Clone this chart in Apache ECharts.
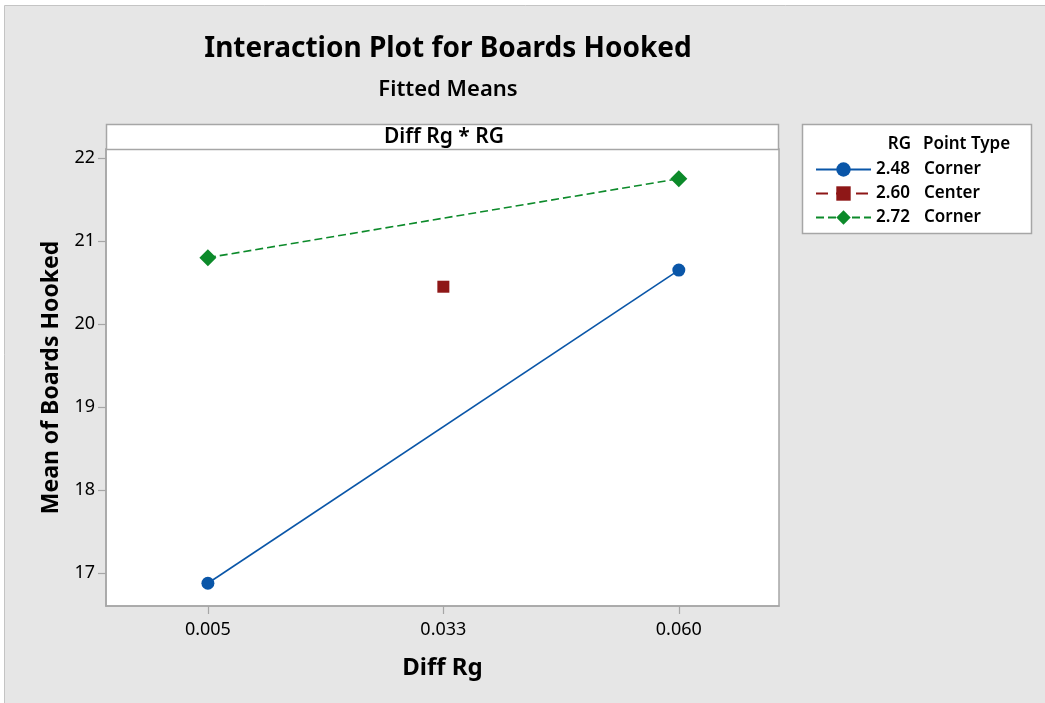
<!DOCTYPE html>
<html>
<head>
<meta charset="utf-8">
<script src="https://cdn.jsdelivr.net/npm/echarts@6/dist/echarts.min.js"></script>
<style>
  html, body { margin: 0; padding: 0; background: #ffffff; }
  #chart { width: 1045px; height: 703px; }
</style>
</head>
<body>
<div id="chart"></div>
<script>
// Diff Rg levels and their tick labels
const diffRgTicks = [0.005, 0.0325, 0.060];
const diffRgLabels = ['0.005', '0.033', '0.060'];
const yTicks = [17, 18, 19, 20, 21, 22];

// Fitted means per RG level
const rg248X = [0.005, 0.060];
const rg248Y = [16.88, 20.65];
const rg260X = [0.0325];
const rg260Y = [20.45];
const rg272X = [0.005, 0.060];
const rg272Y = [20.80, 21.75];

// Legend entries: RG value and point type
const rgValues = ['2.48', '2.60', '2.72'];
const pointTypes = ['Corner', 'Center', 'Corner'];

const FONT = 'Noto Sans';
const colors = ['#0a56a8', '#8e1717', '#0c8a2a'];

function pairs(xs, ys) { return xs.map((x, i) => [x, ys[i]]); }

const names = rgValues.map((v, i) => v + '|' + pointTypes[i]);

const chart = echarts.init(document.getElementById('chart'), null, { renderer: 'canvas' });

const option = {
  animation: false,
  backgroundColor: '#ffffff',
  textStyle: { fontFamily: FONT },
  graphic: [
    // outer panel
    { type: 'rect', z: -10, shape: { x: 4.5, y: 5.5, width: 1045, height: 710 },
      style: { fill: '#e6e6e6', stroke: '#c4c4c4', lineWidth: 1 } },
    // panel header strip
    { type: 'rect', z: 1, shape: { x: 106.5, y: 124.5, width: 672, height: 25 },
      style: { fill: '#ffffff', stroke: '#a6a6a6', lineWidth: 1.5 } },
    { type: 'text', z: 2, x: 444, y: 137,
      style: { text: 'Diff Rg * RG', fill: '#000', font: '600 21px "' + FONT + '"', align: 'center', verticalAlign: 'middle' } },
    // legend box
    { type: 'rect', z: 1, shape: { x: 802.5, y: 124.5, width: 229, height: 109 },
      style: { fill: '#ffffff', stroke: '#a6a6a6', lineWidth: 1.5 } },
    { type: 'text', z: 2, x: 911, y: 144,
      style: { text: 'RG', fill: '#000', font: '600 17px "' + FONT + '"', align: 'right', verticalAlign: 'middle' } },
    { type: 'text', z: 2, x: 923, y: 144,
      style: { text: 'Point Type', fill: '#000', font: '600 17px "' + FONT + '"', align: 'left', verticalAlign: 'middle' } }
  ],
  title: [
    { text: 'Interaction Plot for Boards Hooked', left: 443, top: 30, textAlign: 'center',
      textStyle: { fontFamily: FONT, fontSize: 28, fontWeight: 'bold', color: '#000' } },
    { text: 'Fitted Means', left: 443, top: 74, textAlign: 'center',
      textStyle: { fontFamily: FONT, fontSize: 22, fontWeight: 600, color: '#000' } }
  ],
  legend: {
    orient: 'vertical',
    left: 810, top: 156,
    itemGap: 7,
    itemWidth: 55,
    itemHeight: 18,
    data: names,
    formatter: function (name) {
      const p = name.split('|');
      return '{v|' + p[0] + '}{t|' + p[1] + '}';
    },
    textStyle: {
      fontFamily: FONT, fontSize: 17, fontWeight: 600, color: '#000',
      rich: {
        v: { fontFamily: FONT, fontSize: 17, fontWeight: 600, width: 48 },
        t: { fontFamily: FONT, fontSize: 17, fontWeight: 600 }
      }
    }
  },
  grid: {
    left: 106, right: 266, top: 149, bottom: 97,
    show: true, backgroundColor: '#ffffff', borderColor: '#a6a6a6', borderWidth: 1.5
  },
  xAxis: {
    type: 'value',
    min: -0.0069, max: 0.0717,
    name: 'Diff Rg', nameLocation: 'middle', nameGap: 50,
    nameTextStyle: { fontFamily: FONT, fontSize: 24, fontWeight: 'bold', color: '#000' },
    axisLine: { show: true, onZero: false, lineStyle: { color: '#a6a6a6', width: 1.5 } },
    axisTick: { show: true, length: 8, customValues: diffRgTicks, lineStyle: { color: '#a6a6a6', width: 1.2 } },
    axisLabel: {
      customValues: diffRgTicks, margin: 15,
      fontFamily: FONT, fontSize: 18, color: '#000',
      formatter: function (v) {
        const i = diffRgTicks.findIndex(t => Math.abs(t - v) < 1e-9);
        return i >= 0 ? diffRgLabels[i] : '';
      }
    },
    splitLine: { show: false }
  },
  yAxis: {
    type: 'value',
    min: 16.606, max: 22.108,
    name: 'Mean of Boards Hooked', nameLocation: 'middle', nameGap: 43,
    nameTextStyle: { fontFamily: FONT, fontSize: 23, fontWeight: 'bold', color: '#000' },
    axisLine: { show: true, onZero: false, lineStyle: { color: '#a6a6a6', width: 1.5 } },
    axisTick: { show: true, length: 8, customValues: yTicks, lineStyle: { color: '#a6a6a6', width: 1.2 } },
    axisLabel: { customValues: yTicks, margin: 11, fontFamily: FONT, fontSize: 18, color: '#000' },
    splitLine: { show: false }
  },
  series: [
    {
      name: names[0], type: 'line', data: pairs(rg248X, rg248Y),
      symbol: 'circle', symbolSize: 13, color: colors[0],
      lineStyle: { color: colors[0], width: 1.6, type: 'solid' },
      itemStyle: { color: colors[0] }, z: 3
    },
    {
      name: names[1], type: 'line', data: pairs(rg260X, rg260Y),
      symbol: 'rect', symbolSize: 12, color: colors[1],
      lineStyle: { color: colors[1], width: 1.6, type: [12, 8] },
      itemStyle: { color: colors[1] }, z: 3
    },
    {
      name: names[2], type: 'line', data: pairs(rg272X, rg272Y),
      symbol: 'diamond', symbolSize: [17, 17], color: colors[2],
      lineStyle: { color: colors[2], width: 1.6, type: [8, 4] },
      itemStyle: { color: colors[2] }, z: 3
    }
  ]
};

chart.setOption(option);
</script>
</body>
</html>
